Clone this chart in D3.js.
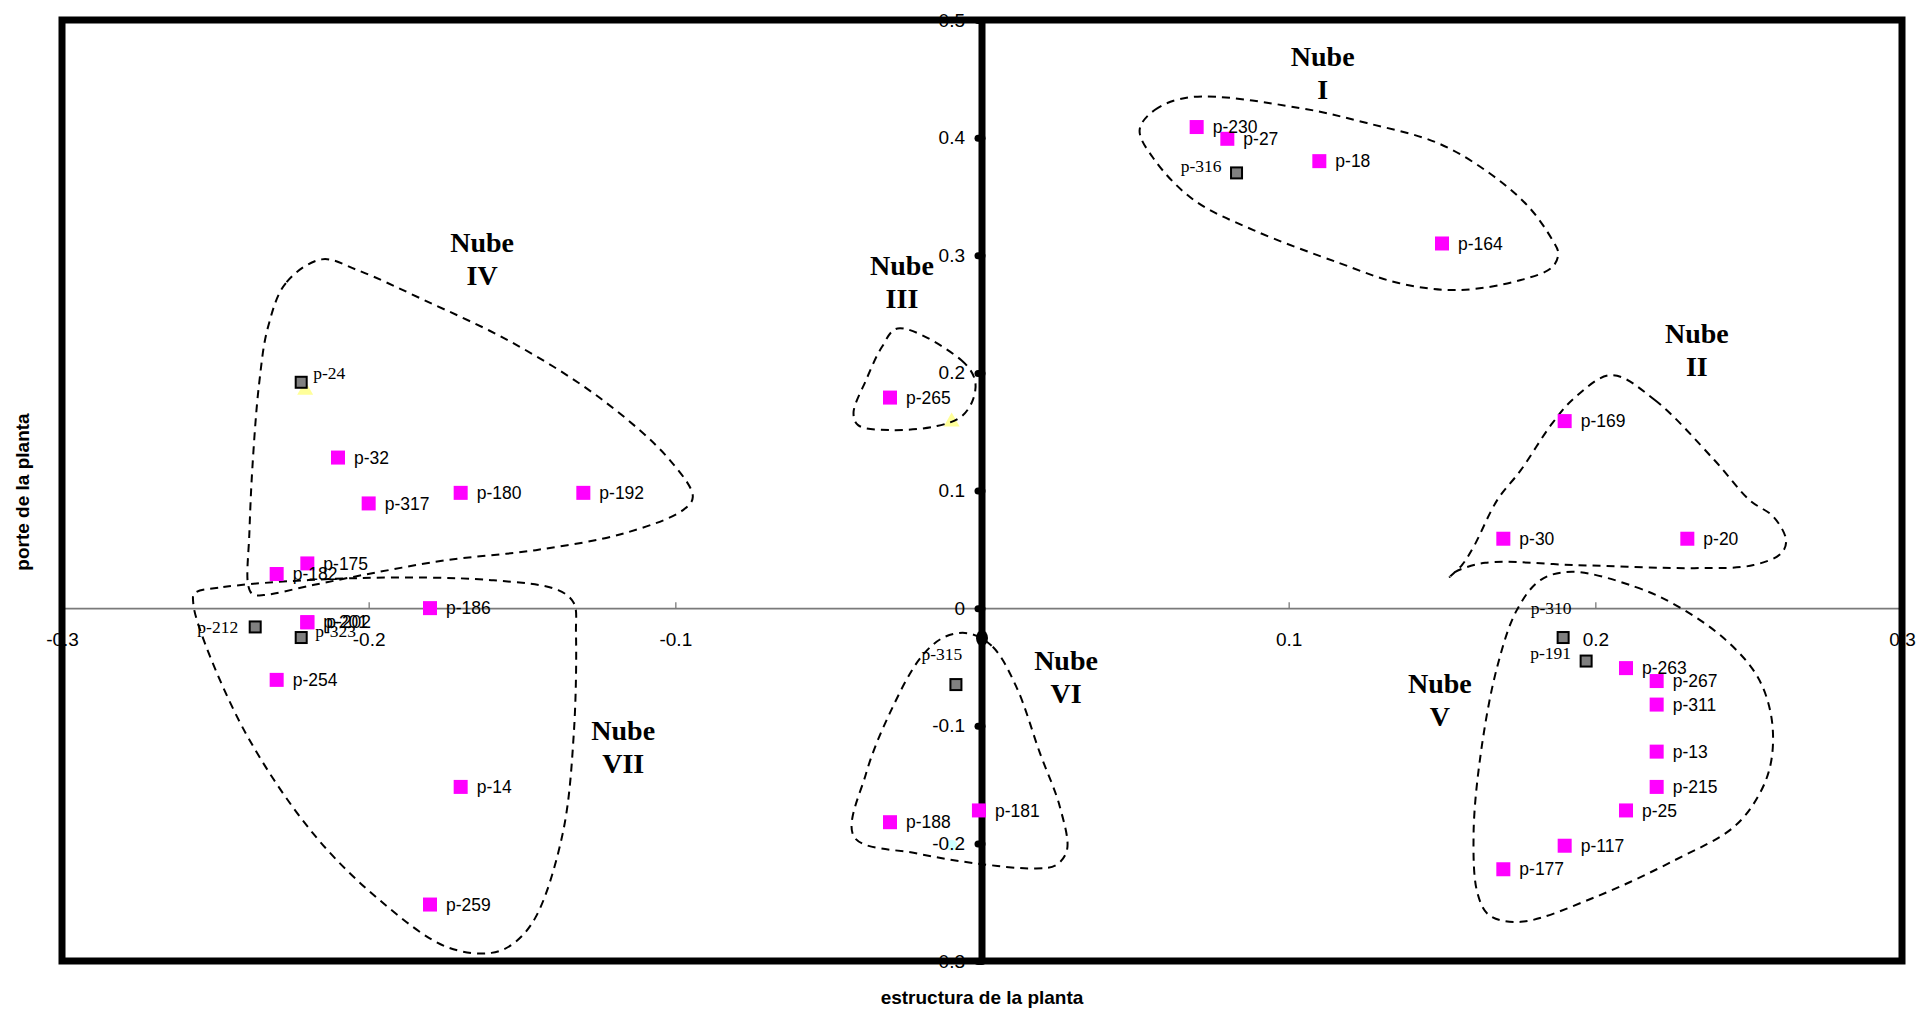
<!DOCTYPE html>
<html>
<head>
<meta charset="utf-8">
<script src="https://cdn.jsdelivr.net/npm/d3@7"></script>
<style>
  html, body { margin: 0; padding: 0; background: #ffffff; }
  svg { display: block; }
</style>
</head>
<body>
<svg id="chart" width="1919" height="1010"></svg>
<script>
// ---------------- DATA ----------------
const xDomain = [-0.3, 0.3];
const yDomain = [-0.3, 0.5];
const xTickValues = [-0.3, -0.2, -0.1, 0.1, 0.2, 0.3];
const xTickLabels = ["-0.3", "-0.2", "-0.1", "0.1", "0.2", "0.3"];
const yTickValues = [-0.3, -0.2, -0.1, 0, 0.1, 0.2, 0.3, 0.4, 0.5];
const yTickLabels = ["-0.3", "-0.2", "-0.1", "0", "0.1", "0.2", "0.3", "0.4", "0.5"];

const xTitle = "estructura de la planta";
const yTitle = "porte de la planta";

// magenta series
const pinkNames = ["p-230","p-27","p-18","p-164","p-169","p-30","p-20","p-265","p-32","p-317",
  "p-180","p-192","p-175","p-182","p-186","p-201","p-202","p-254","p-14","p-259",
  "p-188","p-181","p-263","p-267","p-311","p-13","p-215","p-25","p-117","p-177"];
const pinkX = [0.070,0.080,0.110,0.150,0.190,0.170,0.230,-0.030,-0.210,-0.200,
  -0.170,-0.130,-0.220,-0.230,-0.180,-0.220,-0.220,-0.230,-0.170,-0.180,
  -0.030,-0.001,0.210,0.220,0.220,0.220,0.220,0.210,0.190,0.170];
const pinkY = [0.409,0.399,0.380,0.310,0.159,0.059,0.059,0.179,0.128,0.089,
  0.098,0.098,0.038,0.029,0.000,-0.012,-0.012,-0.061,-0.152,-0.252,
  -0.182,-0.172,-0.051,-0.062,-0.082,-0.122,-0.152,-0.172,-0.202,-0.222];

// grey series
const greyNames = ["p-24","p-212","p-323","p-316","p-315","p-310","p-191"];
const greyX = [-0.222,-0.237,-0.222,0.083,-0.0085,0.1895,0.197];
const greyY = [0.192,-0.016,-0.025,0.370,-0.065,-0.025,-0.045];

// faint hidden series
const yellowX = [-0.2207, -0.0099];
const yellowY = [0.1854, 0.1584];
const cyanX = [-0.0099];
const cyanY = [-0.2015];
const blackX = [0];
const blackY = [-0.0255];

// cloud outlines (data coordinates)
const nubeI_X = [0.0514,0.0563,0.0684,0.1036,0.1255,0.1486,0.1654,0.1783,0.1860,0.1879,0.1860,0.1757,0.1551,0.1358,0.1165,0.0885,0.0691,0.0563];
const nubeI_Y = [0.4065,0.4235,0.4345,0.4252,0.4124,0.3954,0.3699,0.3410,0.3129,0.3018,0.2900,0.2789,0.2704,0.2764,0.2934,0.3214,0.3469,0.3810];
const nubeII_X = [0.2053,0.2194,0.2388,0.2503,0.2581,0.2622,0.2607,0.2516,0.2323,0.1936,0.1641,0.1542,0.1525,0.1565,0.1603,0.1680,0.1757,0.1860,0.1936];
const nubeII_Y = [0.1981,0.1769,0.1259,0.0918,0.0776,0.0578,0.0468,0.0366,0.0340,0.0366,0.0385,0.0306,0.0266,0.0366,0.0521,0.0918,0.1173,0.1573,0.1797];
const nubeIII_X = [-0.0275,-0.0068,-0.0023,-0.0030,-0.0068,-0.0147,-0.0301,-0.0404,-0.0419,-0.0378,-0.0326];
const nubeIII_Y = [0.2378,0.2109,0.1939,0.1769,0.1627,0.1548,0.1514,0.1556,0.1658,0.1939,0.2222];
const nubeIV_X = [-0.2153,-0.2270,-0.2328,-0.2357,-0.2379,-0.2389,-0.2393,-0.2379,-0.2342,-0.2182,-0.1964,-0.1746,-0.1455,-0.1164,-0.0975,-0.0943,-0.1018,-0.1237,-0.1527,-0.1819,-0.2037];
const nubeIV_Y = [0.2965,0.2764,0.2392,0.1913,0.1202,0.0638,0.0196,0.0119,0.0111,0.0196,0.0309,0.0408,0.0493,0.0638,0.0833,0.0946,0.1259,0.1769,0.2251,0.2619,0.2874];
const nubeV_X = [0.1924,0.2130,0.2272,0.2426,0.2529,0.2574,0.2574,0.2536,0.2452,0.2259,0.2001,0.1757,0.1654,0.1616,0.1603,0.1628,0.1680,0.1744,0.1821];
const nubeV_Y = [0.0309,0.0181,0.0011,-0.0272,-0.0584,-0.0925,-0.1293,-0.1576,-0.1860,-0.2143,-0.2455,-0.2667,-0.2611,-0.2426,-0.1916,-0.1207,-0.0499,-0.0017,0.0238];
const nubeVI_X = [-0.0043,0.0035,0.0112,0.0189,0.0254,0.0277,0.0241,0.0176,-0.0017,-0.0210,-0.0417,-0.0378,-0.0301,-0.0198,-0.0121];
const nubeVI_Y = [-0.0215,-0.0329,-0.0669,-0.1233,-0.1690,-0.2058,-0.2185,-0.2213,-0.2171,-0.2086,-0.1945,-0.1406,-0.0895,-0.0414,-0.0244];
const nubeVII_X = [-0.2568,-0.2474,-0.2037,-0.1600,-0.1382,-0.1331,-0.1324,-0.1331,-0.1367,-0.1455,-0.1527,-0.1600,-0.1746,-0.1964,-0.2182,-0.2401,-0.2546,-0.2572];
const nubeVII_Y = [0.0125,0.0179,0.0255,0.0238,0.0153,0.0043,-0.0213,-0.1063,-0.1913,-0.2625,-0.2849,-0.2931,-0.2880,-0.2483,-0.1913,-0.1063,-0.0213,0.0043];

// cloud titles
const nubeNames = ["I","II","III","IV","V","VI","VII"];
const nubeLabelX = [0.1111, 0.2331, -0.0261, -0.1630, 0.1493, 0.0274, -0.1170];
const nubeLabelY = [0.4694, 0.2338, 0.2917, 0.3112, -0.0638, -0.0442, -0.1037];

// ---------------- LAYOUT / STYLE ----------------
const sansFont = "'Liberation Sans', Arial, sans-serif";
const serifFont = "'Liberation Serif', 'Times New Roman', serif";

// label placement for grey points (pixels) - style only
const greyLabelPlacement = {
  "p-24":  {anchor: "start",  dx: 12,  dy: -9},
  "p-212": {anchor: "end",    dx: -17, dy: 0},
  "p-323": {anchor: "start",  dx: 14,  dy: -7},
  "p-316": {anchor: "end",    dx: -15, dy: -7},
  "p-315": {anchor: "middle", dx: -14, dy: -31},
  "p-310": {anchor: "middle", dx: -12, dy: -30},
  "p-191": {anchor: "end",    dx: -15, dy: -8}
};
const pinkLabelDx = {"p-202": 19};

const svg = d3.select("#chart");
const x = d3.scaleLinear().domain(xDomain).range([62, 1902]);
const y = d3.scaleLinear().domain(yDomain).range([961, 20]);

svg.append("rect").attr("width", 1919).attr("height", 1010).attr("fill", "#fff");

// horizontal axis (gray line at y=0)
const xAxis = d3.axisBottom(x)
  .tickValues(xTickValues)
  .tickFormat((d, i) => xTickLabels[i])
  .tickSizeInner(-6).tickSizeOuter(0).tickPadding(24);
const gx = svg.append("g").attr("transform", `translate(0,${y(0)})`).call(xAxis);
gx.select(".domain").attr("stroke", "#7a7a7a").attr("stroke-width", 1.6);
gx.selectAll(".tick line").attr("stroke", "#7a7a7a").attr("stroke-width", 1.3);
gx.selectAll(".tick text").attr("font-family", sansFont).attr("font-size", 19).attr("fill", "#000");

// vertical axis labels
const yAxis = d3.axisLeft(y)
  .tickValues(yTickValues)
  .tickFormat((d, i) => yTickLabels[i])
  .tickSizeInner(4).tickSizeOuter(0).tickPadding(13);
const gy = svg.append("g").attr("transform", `translate(${x(0)},0)`).call(yAxis);
gy.select(".domain").remove();
gy.selectAll(".tick line").attr("stroke", "#000").attr("stroke-width", 7).attr("stroke-linecap", "round");
gy.selectAll(".tick text").attr("font-family", sansFont).attr("font-size", 19).attr("fill", "#000");

// faint hidden markers
const yellowPts = yellowX.map((v, i) => [v, yellowY[i]]);
svg.append("g").selectAll("path").data(yellowPts).join("path")
  .attr("d", d3.symbol(d3.symbolTriangle, 110))
  .attr("transform", d => `translate(${x(d[0])},${y(d[1])})`)
  .attr("fill", "#ffff99");
const cyanPts = cyanX.map((v, i) => [v, cyanY[i]]);
svg.append("g").selectAll("circle").data(cyanPts).join("circle")
  .attr("cx", d => x(d[0])).attr("cy", d => y(d[1])).attr("r", 5.5)
  .attr("fill", "#ccffff");

// re-draw y tick text above the faint marker
gy.raise();

// cloud outlines
const clouds = [
  [nubeI_X, nubeI_Y], [nubeII_X, nubeII_Y], [nubeIII_X, nubeIII_Y], [nubeIV_X, nubeIV_Y],
  [nubeV_X, nubeV_Y], [nubeVI_X, nubeVI_Y], [nubeVII_X, nubeVII_Y]
].map(([xs, ys]) => xs.map((v, i) => [v, ys[i]]));
const cloudLine = d3.line()
  .x(d => x(d[0])).y(d => y(d[1]))
  .curve(d3.curveCatmullRomClosed.alpha(0.5));
svg.append("g").selectAll("path").data(clouds).join("path")
  .attr("d", cloudLine)
  .attr("fill", "none").attr("stroke", "#000")
  .attr("stroke-width", 2).attr("stroke-dasharray", "8,6");

// frame and vertical axis
svg.append("rect")
  .attr("x", x(xDomain[0])).attr("y", y(yDomain[1]))
  .attr("width", x(xDomain[1]) - x(xDomain[0]))
  .attr("height", y(yDomain[0]) - y(yDomain[1]))
  .attr("fill", "none").attr("stroke", "#000").attr("stroke-width", 7);
svg.append("line")
  .attr("x1", x(0)).attr("x2", x(0))
  .attr("y1", y(yDomain[1])).attr("y2", y(yDomain[0]))
  .attr("stroke", "#000").attr("stroke-width", 7);

// black hidden point on axis
const blackPts = blackX.map((v, i) => [v, blackY[i]]);
svg.append("g").selectAll("ellipse").data(blackPts).join("ellipse")
  .attr("cx", d => x(d[0])).attr("cy", d => y(d[1])).attr("rx", 6).attr("ry", 8)
  .attr("fill", "#000");

// grey points
const greyPts = greyNames.map((n, i) => ({name: n, x: greyX[i], y: greyY[i]}));
const gGrey = svg.append("g");
gGrey.selectAll("rect").data(greyPts).join("rect")
  .attr("x", d => x(d.x) - 5.5).attr("y", d => y(d.y) - 5.5)
  .attr("width", 11).attr("height", 11)
  .attr("fill", "#808080").attr("stroke", "#000").attr("stroke-width", 2);
gGrey.selectAll("text").data(greyPts).join("text")
  .attr("x", d => x(d.x) + greyLabelPlacement[d.name].dx)
  .attr("y", d => y(d.y) + greyLabelPlacement[d.name].dy)
  .attr("dy", "0.35em")
  .attr("text-anchor", d => greyLabelPlacement[d.name].anchor)
  .attr("font-family", serifFont).attr("font-size", 17.5).attr("fill", "#000")
  .text(d => d.name);

// magenta points
const pinkPts = pinkNames.map((n, i) => ({name: n, x: pinkX[i], y: pinkY[i]}));
const gPink = svg.append("g");
gPink.selectAll("rect").data(pinkPts).join("rect")
  .attr("x", d => x(d.x) - 7).attr("y", d => y(d.y) - 7)
  .attr("width", 14).attr("height", 14)
  .attr("fill", "#ff00ff");
gPink.selectAll("text").data(pinkPts).join("text")
  .attr("x", d => x(d.x) + (pinkLabelDx[d.name] || 16))
  .attr("y", d => y(d.y))
  .attr("dy", "0.35em")
  .attr("font-family", sansFont).attr("font-size", 17.5).attr("fill", "#000")
  .text(d => d.name);

// cloud titles
const nubePts = nubeNames.map((n, i) => ({name: n, x: nubeLabelX[i], y: nubeLabelY[i]}));
const gNube = svg.append("g")
  .attr("font-family", serifFont).attr("font-size", 28).attr("font-weight", "bold")
  .attr("text-anchor", "middle").attr("fill", "#000");
gNube.selectAll("text.l1").data(nubePts).join("text").attr("class", "l1")
  .attr("x", d => x(d.x)).attr("y", d => y(d.y)).attr("dy", "0.35em").text("Nube");
gNube.selectAll("text.l2").data(nubePts).join("text").attr("class", "l2")
  .attr("x", d => x(d.x)).attr("y", d => y(d.y) + 33).attr("dy", "0.35em").text(d => d.name);

// axis titles
svg.append("text")
  .attr("x", x(0)).attr("y", 1004)
  .attr("text-anchor", "middle")
  .attr("font-family", sansFont).attr("font-size", 19).attr("font-weight", "bold")
  .text(xTitle);
svg.append("text")
  .attr("transform", "translate(29,492) rotate(-90)")
  .attr("text-anchor", "middle")
  .attr("font-family", sansFont).attr("font-size", 19).attr("font-weight", "bold")
  .text(yTitle);
</script>
</body>
</html>
